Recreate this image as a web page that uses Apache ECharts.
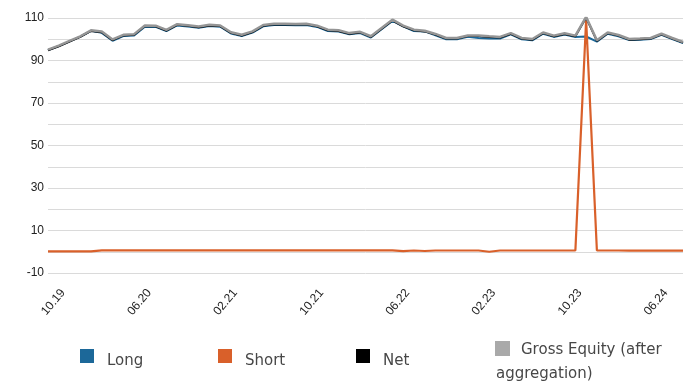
<!DOCTYPE html>
<html>
<head>
<meta charset="utf-8">
<style>
  html, body { margin: 0; padding: 0; background: #ffffff; }
  #chart { width: 690px; height: 383px; }
</style>
<script src="https://cdn.jsdelivr.net/npm/echarts/dist/echarts.min.js"></script>
</head>
<body>
<div id="chart"></div>
<script>
// Monthly exposure, 08.19 – 07.24
const months = [
  '08.19','09.19','10.19','11.19','12.19',
  '01.20','02.20','03.20','04.20','05.20','06.20','07.20','08.20','09.20','10.20','11.20','12.20',
  '01.21','02.21','03.21','04.21','05.21','06.21','07.21','08.21','09.21','10.21','11.21','12.21',
  '01.22','02.22','03.22','04.22','05.22','06.22','07.22','08.22','09.22','10.22','11.22','12.22',
  '01.23','02.23','03.23','04.23','05.23','06.23','07.23','08.23','09.23','10.23','11.23','12.23',
  '01.24','02.24','03.24','04.24','05.24','06.24','07.24'
];

const longExposure = [
  94.9, 96.8, 99.0, 101.2, 104.0, 103.0, 99.3, 101.5, 101.8, 105.9,
  105.8, 103.8, 106.5, 106.0, 105.4, 106.2, 105.9, 102.7, 101.5, 103.1,
  106.1, 106.7, 106.7, 106.6, 106.7, 105.8, 103.9, 103.6, 102.3, 102.9,
  100.8, 104.7, 108.6, 106.1, 103.9, 103.7, 101.9, 100.0, 100.0, 101.2,
  100.6, 100.4, 100.3, 102.3, 100.0, 99.5, 102.6, 101.1, 102.2, 101.1,
  101.3, 98.9, 102.6, 101.4, 99.6, 99.8, 100.1, 102.1, 100.1, 98.2
];

const shortExposure = [
  0.2, 0.2, 0.2, 0.2, 0.2, 0.65, 0.65, 0.65, 0.65, 0.65,
  0.65, 0.65, 0.65, 0.65, 0.65, 0.65, 0.65, 0.65, 0.65, 0.65,
  0.65, 0.65, 0.65, 0.65, 0.65, 0.65, 0.65, 0.65, 0.65, 0.65,
  0.65, 0.65, 0.65, 0.3, 0.6, 0.35, 0.6, 0.6, 0.6, 0.6,
  0.6, 0.0, 0.6, 0.6, 0.6, 0.6, 0.6, 0.6, 0.6, 0.6,
  109.2, 0.6, 0.6, 0.6, 0.5, 0.5, 0.5, 0.5, 0.5, 0.5
];

const netExposure = [
  94.8, 96.7, 98.9, 101.1, 103.9, 103.3, 99.6, 101.8, 102.1, 106.2,
  106.1, 104.1, 106.8, 106.3, 105.7, 106.5, 106.2, 103.0, 101.8, 103.4,
  106.4, 107.0, 107.0, 106.9, 107.0, 106.1, 104.2, 103.9, 102.6, 103.2,
  101.1, 105.0, 108.9, 106.1, 104.2, 103.7, 102.2, 100.3, 100.3, 101.5,
  101.5, 101.1, 100.8, 102.6, 100.3, 99.8, 102.9, 101.4, 102.5, 101.4,
  110.2, 99.2, 102.9, 101.7, 99.8, 100.0, 100.3, 102.3, 100.3, 98.4
];

const grossEquity = [
  95.1, 97.0, 99.2, 101.4, 104.2, 103.6, 99.9, 102.1, 102.4, 106.5,
  106.4, 104.4, 107.1, 106.6, 106.0, 106.8, 106.5, 103.3, 102.1, 103.7,
  106.7, 107.3, 107.3, 107.2, 107.3, 106.4, 104.5, 104.2, 102.9, 103.5,
  101.4, 105.3, 109.2, 106.4, 104.5, 104.0, 102.5, 100.6, 100.6, 101.8,
  101.8, 101.4, 101.1, 102.9, 100.6, 100.1, 103.2, 101.7, 102.8, 101.7,
  110.5, 99.5, 103.2, 102.0, 100.1, 100.3, 100.6, 102.6, 100.6, 98.7
];

// Month labels shown on the axis, every eighth month from 10.19
const shownMonths = ['10.19','06.20','02.21','10.21','06.22','02.23','10.23','06.24'];

const COLORS = { long: '#1c6899', short: '#d9602a', net: '#000000', gross: '#959595', grossIcon: '#a9a9a9' };
const LEGEND_FONT = '"DejaVu Sans", sans-serif';
const LEGEND_TEXT = '#474747';

const chart = echarts.init(document.getElementById('chart'), null, { renderer: 'canvas' });

function lineSeries(name, data, color, width) {
  return {
    name, type: 'line', data,
    symbol: 'none', smooth: false,
    lineStyle: { color, width },
    itemStyle: { color },
    z: 2
  };
}

// One legend block per series so each entry sits at its own column.
// The label sits a little below the centre of its swatch.
function legendItem(name, color, left, top, size, text, dx, dy) {
  return {
    data: [{ name, icon: 'rect', itemStyle: { color, borderWidth: 0 } }],
    left, top,
    padding: 0,
    itemWidth: size, itemHeight: size,
    selectedMode: false,
    formatter: n => '{t|' + (text || n) + '}',
    textStyle: {
      fontFamily: LEGEND_FONT, fontSize: 15, color: LEGEND_TEXT,
      rich: { t: { fontFamily: LEGEND_FONT, fontSize: 15, color: LEGEND_TEXT, padding: [dy, 0, 0, dx] } }
    }
  };
}

chart.setOption({
  animation: false,
  grid: { left: 48, right: 7, top: 18, bottom: 110 },
  xAxis: {
    type: 'category',
    data: months,
    boundaryGap: false,
    axisLine: { show: false },
    axisTick: { show: false },
    axisLabel: {
      rotate: 50,
      margin: 10,
      padding: [0, 10, 0, 0],
      fontFamily: 'Liberation Sans, Arial, sans-serif',
      fontSize: 12,
      color: '#222222',
      interval: (i, v) => shownMonths.indexOf(v) !== -1
    },
    splitLine: { show: false }
  },
  yAxis: {
    type: 'value',
    min: -10, max: 110, interval: 10,
    axisLine: { show: false },
    axisTick: { show: false },
    axisLabel: {
      margin: 4,
      fontFamily: 'Liberation Sans, Arial, sans-serif',
      fontSize: 12,
      color: '#222222',
      formatter: v => ((v + 10) % 20 === 0 ? String(v) : '')
    },
    splitLine: { lineStyle: { color: '#dadada', width: 1 } }
  },
  legend: [
    legendItem('Long', COLORS.long, 80, 349, 14, null, 8, 10),
    legendItem('Short', COLORS.short, 218, 349, 14, null, 8, 10),
    legendItem('Net', COLORS.net, 356, 349, 14, null, 8, 10),
    legendItem('Gross Equity (after aggregation)', COLORS.grossIcon, 495, 341, 15, 'Gross Equity (after', 6, 3)
  ],
  graphic: [{
    type: 'text',
    left: 496, top: 367,
    style: { text: 'aggregation)', font: '15px "DejaVu Sans", sans-serif', fill: LEGEND_TEXT }
  }],
  series: [
    lineSeries('Long', longExposure, COLORS.long, 2),
    lineSeries('Short', shortExposure, COLORS.short, 2.2),
    lineSeries('Net', netExposure, COLORS.net, 2),
    lineSeries('Gross Equity (after aggregation)', grossEquity, COLORS.gross, 2.5)
  ]
});
</script>
</body>
</html>
